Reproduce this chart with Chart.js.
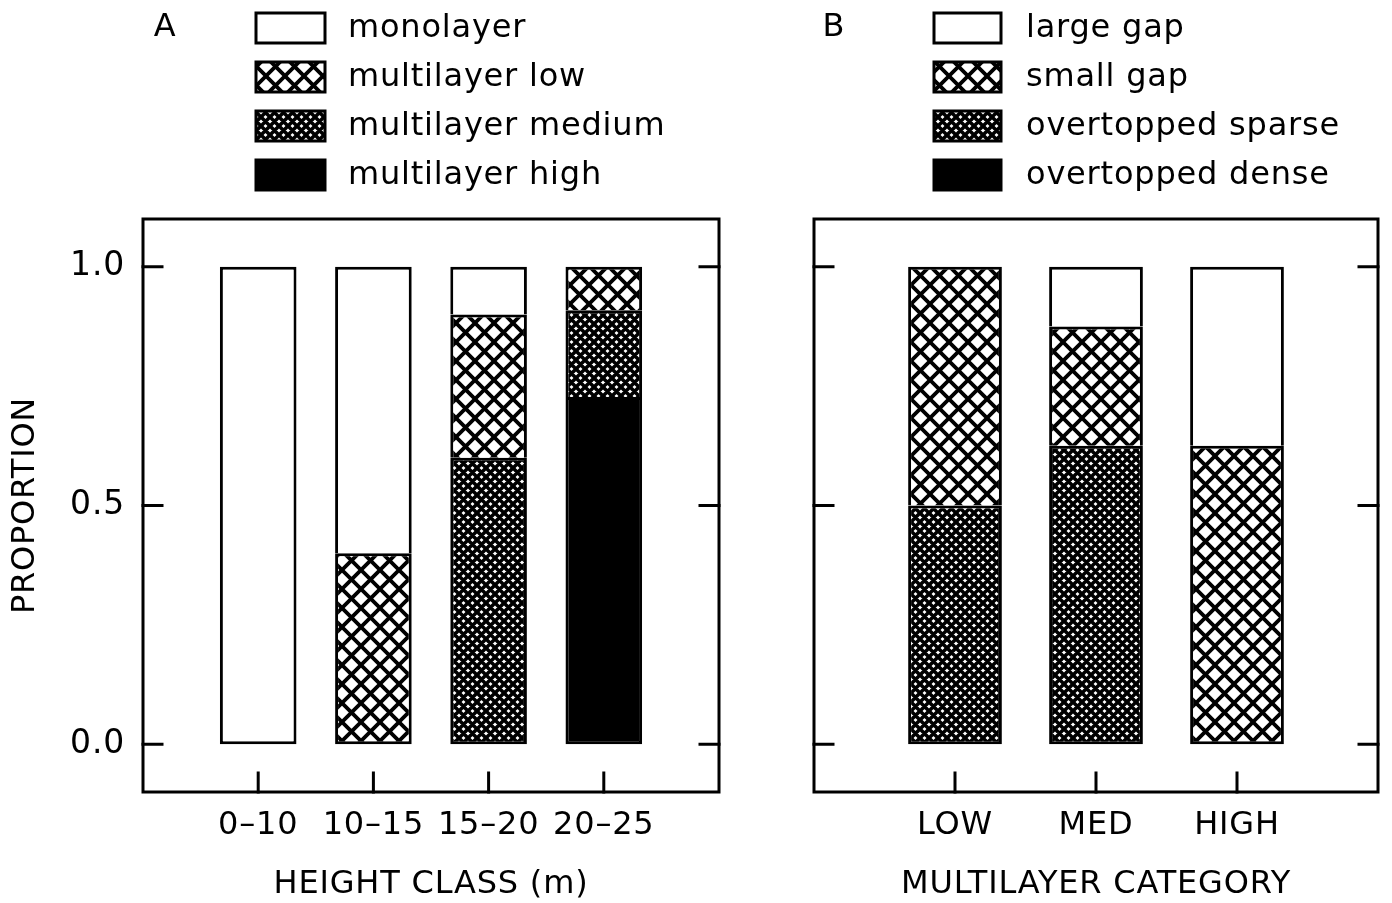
<!DOCTYPE html>
<html>
<head>
<meta charset="utf-8">
<script src="https://cdn.jsdelivr.net/npm/chart.js@4"></script>
<style>
  html, body { margin: 0; padding: 0; background: #fff; }
  #wrap { position: relative; width: 1392px; height: 903px; }
  .panel { position: absolute; top: 0; height: 903px; }
  #panelA { left: 0; width: 740px; }
  #panelB { left: 740px; width: 652px; }
</style>
</head>
<body>
<div id="wrap">
  <div class="panel" id="panelA"><canvas id="chartA"></canvas></div>
  <div class="panel" id="panelB"><canvas id="chartB"></canvas></div>
</div>
<script>
// panel A: height classes
const heightClasses = ["0–10", "10–15", "15–20", "20–25"];
const monolayer = [1.0, 0.6, 0.1, null];
const multilayerLow = [null, 0.4, 0.3, 0.091];
const multilayerMedium = [null, null, 0.6, 0.182];
const multilayerHigh = [null, null, null, 0.727];

// panel B: multilayer categories
const multilayerCategories = ["LOW", "MED", "HIGH"];
const largeGap = [null, 0.125, 0.375];
const smallGap = [0.5, 0.25, 0.625];
const overtoppedSparse = [0.5, 0.625, null];
const overtoppedDense = [null, null, null];

const yTicks = [0, 0.5, 1.0];

const FONT = "DejaVu Sans";
const SPACING = "0.8px";

// hatch fills
function hatch(size, width) {
  const c = document.createElement("canvas");
  c.width = size;
  c.height = size;
  const g = c.getContext("2d");
  g.fillStyle = "#fff";
  g.fillRect(0, 0, size, size);
  g.strokeStyle = "#000";
  g.lineWidth = width;
  g.beginPath();
  for (const k of [-size, 0, size]) {
    g.moveTo(k, 0); g.lineTo(k + size, size);
    g.moveTo(k, size); g.lineTo(k + size, 0);
  }
  g.stroke();
  return g.createPattern(c, "repeat");
}
const fillOpen = "#ffffff";
const fillCoarse = hatch(19, 3.8);
const fillFine = hatch(9, 3.6);
const fillSolid = "#000000";

// blank slot at each end so the bars sit one step in from the frame
const pad = (arr) => [null, ...arr, null];
const padLabels = (arr) => ["", ...arr, ""];

// only the lowest segment of a stack gets a bottom edge, so joins stay single lines
function edgeWidth(c) {
  const sets = c.chart.data.datasets;
  let lowest = true;
  for (let d = 0; d < c.datasetIndex; d++) {
    if (sets[d].data[c.dataIndex] != null) lowest = false;
  }
  return { top: 3, left: 3, right: 3, bottom: lowest ? 3 : 0 };
}

function barSet(label, values, fill) {
  return {
    label: label,
    data: pad(values),
    backgroundColor: fill,
    borderColor: "#000",
    borderWidth: edgeWidth,
    borderSkipped: false,
    categoryPercentage: 1,
    barPercentage: 0.665,
  };
}

// wider letter spacing, like the plotter font
const spacingPlugin = {
  id: "spacing",
  beforeLayout(chart) { chart.ctx.letterSpacing = SPACING; },
  beforeDraw(chart) { chart.ctx.letterSpacing = SPACING; },
};

// box round the plot and inward ticks
const framePlugin = {
  id: "frame",
  afterDraw(chart) {
    const { ctx, chartArea: a, scales } = chart;
    ctx.save();
    ctx.strokeStyle = "#000";
    ctx.lineWidth = 3;
    ctx.lineCap = "square";
    ctx.strokeRect(a.left, a.top, a.right - a.left, a.bottom - a.top);
    ctx.beginPath();
    scales.y.ticks.forEach((t) => {
      const y = scales.y.getPixelForValue(t.value);
      ctx.moveTo(a.left, y); ctx.lineTo(a.left + 19, y);
      ctx.moveTo(a.right, y); ctx.lineTo(a.right - 19, y);
    });
    chart.data.labels.forEach((lab, i) => {
      if (!lab) return;
      const x = scales.x.getPixelForValue(i);
      ctx.moveTo(x, a.bottom); ctx.lineTo(x, a.bottom - 19);
    });
    ctx.stroke();
    ctx.restore();
  },
};

// stacked legend in one column, top entry = top of the stack
const legendPlugin = {
  id: "columnLegend",
  afterDraw(chart, args, opts) {
    const { ctx } = chart;
    ctx.save();
    ctx.letterSpacing = SPACING;
    ctx.font = "32px '" + FONT + "'";
    ctx.fillStyle = "#000";
    ctx.textAlign = "center";
    ctx.textBaseline = "middle";
    ctx.fillText(opts.tag, opts.tagX, 28);
    ctx.textAlign = "left";
    const sets = chart.data.datasets.slice().reverse();
    sets.forEach((ds, i) => {
      const cy = 28 + i * 49;
      ctx.fillStyle = ds.backgroundColor;
      ctx.fillRect(opts.boxX, cy - 15, opts.boxW, 30);
      ctx.strokeStyle = "#000";
      ctx.lineWidth = 3;
      ctx.strokeRect(opts.boxX, cy - 15, opts.boxW, 30);
      ctx.fillStyle = "#000";
      ctx.fillText(ds.label, opts.textX, cy + 1);
    });
    ctx.restore();
  },
};

function makeChart(id, labels, datasets, o) {
  return new Chart(document.getElementById(id), {
    type: "bar",
    data: { labels: padLabels(labels), datasets: datasets },
    plugins: [spacingPlugin, framePlugin, legendPlugin],
    options: {
      responsive: true,
      maintainAspectRatio: false,
      animation: false,
      events: [],
      layout: { padding: { top: 219, left: 0, right: o.padRight, bottom: 0 } },
      plugins: {
        legend: { display: false },
        tooltip: { enabled: false },
        columnLegend: o.legend,
      },
      scales: {
        x: {
          stacked: true,
          offset: false,
          grid: { display: false, drawTicks: false },
          border: { display: false },
          ticks: {
            color: "#000",
            padding: 14,
            maxRotation: 0,
            autoSkip: false,
            font: { family: FONT, size: 32 },
          },
          title: {
            display: true,
            text: o.xTitle,
            color: "#000",
            padding: { top: 0, bottom: 2 },
            font: { family: FONT, size: 32, lineHeight: 1 },
          },
          afterFit: (s) => { s.height = 111; },
        },
        y: {
          stacked: true,
          min: -0.1,
          max: 1.1,
          grid: { display: false, drawTicks: false },
          border: { display: false },
          afterBuildTicks: (s) => { s.ticks = yTicks.map((v) => ({ value: v })); },
          ticks: {
            display: o.yLabels,
            color: "#000",
            padding: 18,
            font: { family: FONT, size: 33 },
            callback: (v) => Number(v).toFixed(1),
          },
          title: {
            display: o.yLabels,
            text: "PROPORTION",
            color: "#000",
            padding: { top: 10, bottom: 0 },
            font: { family: FONT, size: 32, lineHeight: 1 },
          },
          afterFit: (s) => { s.width = o.yWidth; },
        },
      },
    },
  });
}

makeChart("chartA", heightClasses, [
  barSet("multilayer high", multilayerHigh, fillSolid),
  barSet("multilayer medium", multilayerMedium, fillFine),
  barSet("multilayer low", multilayerLow, fillCoarse),
  barSet("monolayer", monolayer, fillOpen),
], {
  padRight: 21,
  yWidth: 143,
  yLabels: true,
  xTitle: "HEIGHT CLASS (m)",
  legend: { tag: "A", tagX: 165, boxX: 256, boxW: 69, textX: 348 },
});

makeChart("chartB", multilayerCategories, [
  barSet("overtopped dense", overtoppedDense, fillSolid),
  barSet("overtopped sparse", overtoppedSparse, fillFine),
  barSet("small gap", smallGap, fillCoarse),
  barSet("large gap", largeGap, fillOpen),
], {
  padRight: 11,
  yWidth: 74,
  yLabels: false,
  xTitle: "MULTILAYER CATEGORY",
  legend: { tag: "B", tagX: 94, boxX: 194, boxW: 67, textX: 286 },
});
</script>
</body>
</html>
